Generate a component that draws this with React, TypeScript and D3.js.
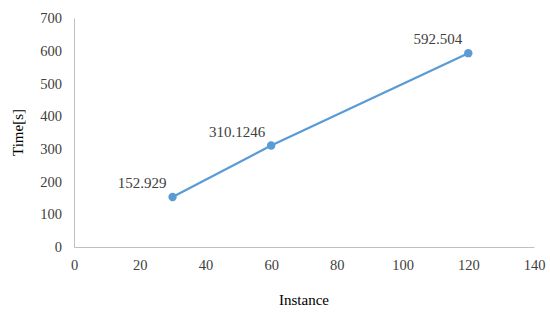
import React, { useEffect, useRef } from 'react';
import * as d3 from 'd3';

const instances = [30, 60, 120];
const times = [152.929, 310.1246, 592.504];
const timeLabels = ['152.929', '310.1246', '592.504'];
const xTicks = [0, 20, 40, 60, 80, 100, 120, 140];
const yTicks = [0, 100, 200, 300, 400, 500, 600, 700];

const App = () => {
    const node = useRef<SVGSVGElement | null>(null);

    useEffect(() => {
        const width = 550;
        const height = 313;
        const left = 74;
        const right = 16;
        const top = 18;
        const bottom = 66;
        const font = 'Liberation Serif';

        const svg = d3.select(node.current);
        svg.selectAll('*').remove();
        svg.attr('width', width).attr('height', height).attr('font-family', font);

        const xScale = d3.scaleLinear().domain([0, 140]).range([left, width - right]);
        const yScale = d3.scaleLinear().domain([0, 700]).range([height - bottom, top]);

        // axes
        const xAxis = svg.append('g')
            .attr('transform', `translate(0,${yScale(0)})`)
            .call(d3.axisBottom(xScale).tickValues(xTicks).tickSize(0).tickPadding(13));
        const yAxis = svg.append('g')
            .attr('transform', `translate(${xScale(0)},0)`)
            .call(d3.axisLeft(yScale).tickValues(yTicks).tickSize(0).tickPadding(12));

        [xAxis, yAxis].forEach((ax) => {
            ax.attr('font-family', font).attr('font-size', 14.5);
            ax.select('.domain').attr('stroke', '#bfbfbf').attr('stroke-width', 1);
            ax.selectAll('text').attr('fill', '#404040');
        });

        // axis titles
        svg.append('text')
            .attr('x', (xScale(0) + xScale(140)) / 2)
            .attr('y', 305)
            .attr('text-anchor', 'middle')
            .attr('font-size', 15)
            .attr('fill', '#000')
            .text('Instance');

        svg.append('text')
            .attr('transform', `translate(23,${(yScale(0) + yScale(700)) / 2}) rotate(-90)`)
            .attr('text-anchor', 'middle')
            .attr('font-size', 15)
            .attr('fill', '#000')
            .text('Time[s]');

        const data = instances.map((x, i) => ({ x, y: times[i], label: timeLabels[i] }));

        const line = d3.line<{ x: number; y: number }>()
            .x((d) => xScale(d.x))
            .y((d) => yScale(d.y));

        svg.append('path')
            .datum(data)
            .attr('d', line)
            .attr('fill', 'none')
            .attr('stroke', '#5b9bd5')
            .attr('stroke-width', 2.25);

        svg.selectAll('circle.pt')
            .data(data)
            .enter()
            .append('circle')
            .attr('class', 'pt')
            .attr('cx', (d) => xScale(d.x))
            .attr('cy', (d) => yScale(d.y))
            .attr('r', 4.2)
            .attr('fill', '#5b9bd5');

        svg.selectAll('text.lbl')
            .data(data)
            .enter()
            .append('text')
            .attr('class', 'lbl')
            .attr('x', (d) => xScale(d.x) - 6)
            .attr('y', (d) => yScale(d.y) - 9)
            .attr('text-anchor', 'end')
            .attr('font-size', 15)
            .attr('fill', '#404040')
            .text((d) => d.label);
    }, []);

    return (
        <svg ref={node} style={{ display: 'block', position: 'absolute', left: 0, top: 0 }} />
    );
};

export default App;
